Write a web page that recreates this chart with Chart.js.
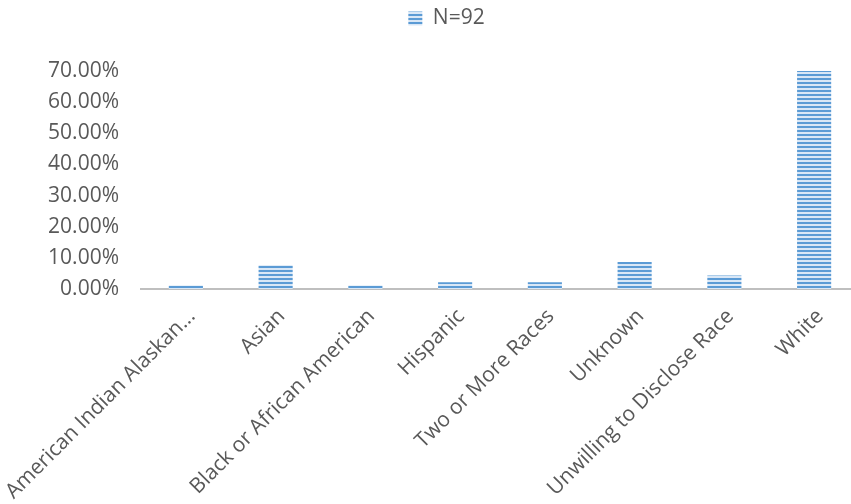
<!DOCTYPE html>
<html>
<head>
<meta charset="utf-8">
<script src="https://cdn.jsdelivr.net/npm/chart.js@4"></script>
<style>
html,body{margin:0;padding:0;background:#fff;overflow:hidden;}
#wrap{width:870px;height:504px;}
</style>
</head>
<body>
<div id="wrap"><canvas id="c" width="870" height="504"></canvas></div>
<script>
const categories = ["American Indian Alaskan...", "Asian", "Black or African American", "Hispanic", "Two or More Races", "Unknown", "Unwilling to Disclose Race", "White"];
const seriesName = "N=92";
const values = [1.09, 7.61, 1.09, 2.17, 2.17, 8.70, 4.35, 72.83];
const yTicks = [0, 10, 20, 30, 40, 50, 60, 70];

function makePattern() {
  const p = document.createElement('canvas');
  p.width = 4; p.height = 4;
  const g = p.getContext('2d');
  g.fillStyle = '#D9E7F6';
  g.fillRect(0, 0, 4, 4);
  g.fillStyle = '#5B9BD5';
  g.fillRect(0, 2, 4, 2);
  return g.createPattern(p, 'repeat');
}
const ctx = document.getElementById('c').getContext('2d');
const pat = makePattern();
const FONT = "'Open Sans', sans-serif";

const legendTweak = {
  id: 'legendTweak',
  beforeInit(chart) {
    const lg = chart.legend;
    if (!lg) return;
    const fit = lg.fit;
    lg.fit = function () { fit.call(this); this.height += 32; };
    const draw = lg.draw;
    lg.draw = function () {
      const c = this.ctx;
      c.save(); c.translate(17, 0);
      draw.call(this);
      c.restore();
    };
  }
};

new Chart(ctx, {
  type: 'bar',
  data: {
    labels: categories,
    datasets: [{
      label: seriesName,
      data: values,
      backgroundColor: pat,
      borderWidth: 0,
      categoryPercentage: 1,
      barPercentage: 0.38
    }]
  },
  options: {
    responsive: false,
    animation: false,
    layout: { padding: { top: 4, left: 0, right: 11, bottom: 0 } },
    plugins: {
      legend: {
        position: 'top',
        labels: {
          boxWidth: 14, boxHeight: 14,
          color: '#595959',
          font: { family: FONT, size: 21 },
          padding: 4
        }
      },
      tooltip: { enabled: false }
    },
    scales: {
      x: {
        afterFit: (s) => { s.height = 215; s.paddingLeft = 0; s.paddingRight = 0; },
        grid: { display: false, drawTicks: false },
        border: { display: true, color: '#BFBFBF', width: 2 },
        ticks: {
          color: '#595959',
          font: { family: FONT, size: 21 },
          minRotation: 45, maxRotation: 45,
          autoSkip: false,
          labelOffset: 6,
          padding: 15
        }
      },
      y: {
        min: 0, max: 70,
        afterBuildTicks: (s) => { s.ticks = yTicks.map(v => ({ value: v })); },
        afterFit: (s) => { s.width = 141; s.paddingTop = 0; s.paddingBottom = 0; },
        grid: { display: false, drawTicks: false },
        border: { display: false },
        ticks: {
          color: '#595959',
          font: { family: FONT, size: 21 },
          padding: 22,
          callback: (v) => v.toFixed(2) + '%'
        }
      }
    }
  },
  plugins: [legendTweak]
});
</script>
</body>
</html>
